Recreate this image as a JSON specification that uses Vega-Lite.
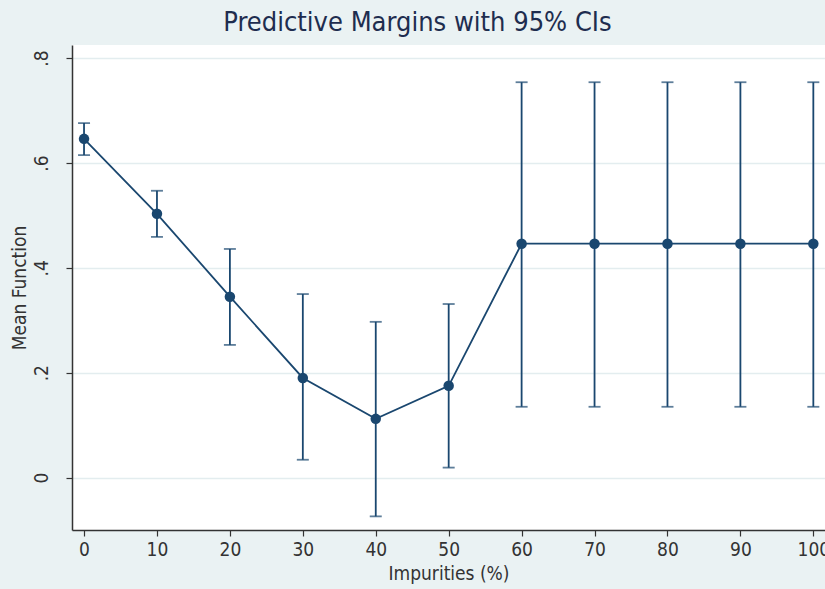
{
  "$schema": "https://vega.github.io/schema/vega-lite/v6.json",
  "width": 753,
  "height": 485,
  "autosize": {"type": "none"},
  "padding": {"left": 72, "top": 45, "right": 0, "bottom": 59},
  "background": "#EAF2F3",
  "view": {"fill": "white", "stroke": null},
  "title": {
    "text": "Predictive Margins with 95% CIs",
    "fontSize": 27,
    "font": "DejaVu Sans Condensed, Liberation Sans, sans-serif",
    "fontWeight": "normal",
    "color": "#1E2D4F",
    "anchor": "middle",
    "dx": -31,
    "offset": 8
  },
  "data": {
    "values": [
      {"imp": 0, "m": 0.646, "lo": 0.615, "hi": 0.676},
      {"imp": 10, "m": 0.503, "lo": 0.459, "hi": 0.547},
      {"imp": 20, "m": 0.345, "lo": 0.253, "hi": 0.436},
      {"imp": 30, "m": 0.190, "lo": 0.034, "hi": 0.350},
      {"imp": 40, "m": 0.112, "lo": -0.074, "hi": 0.297},
      {"imp": 50, "m": 0.175, "lo": 0.019, "hi": 0.331},
      {"imp": 60, "m": 0.446, "lo": 0.135, "hi": 0.754},
      {"imp": 70, "m": 0.446, "lo": 0.135, "hi": 0.754},
      {"imp": 80, "m": 0.446, "lo": 0.135, "hi": 0.754},
      {"imp": 90, "m": 0.446, "lo": 0.135, "hi": 0.754},
      {"imp": 100, "m": 0.446, "lo": 0.135, "hi": 0.754}
    ]
  },
  "encoding": {
    "x": {
      "field": "imp",
      "type": "quantitative",
      "scale": {"domain": [-1.65, 101.6], "nice": false, "zero": false},
      "axis": {
        "title": "Impurities (%)",
        "values": [0, 10, 20, 30, 40, 50, 60, 70, 80, 90, 100],
        "grid": false,
        "domainColor": "#333333",
        "domainWidth": 1.5,
        "tickColor": "#333333",
        "tickWidth": 1.2,
        "tickSize": 6,
        "labelFont": "DejaVu Sans Condensed, Liberation Sans, sans-serif",
        "labelFontSize": 19,
        "labelColor": "#333333",
        "labelPadding": 4,
        "labelFlush": false,
        "titleFont": "DejaVu Sans Condensed, Liberation Sans, sans-serif",
        "titleFontSize": 19,
        "titleFontWeight": "normal",
        "titleColor": "#333333",
        "titlePadding": 5
      }
    }
  },
  "layer": [
    {
      "mark": {"type": "rule", "color": "#1A476F", "strokeWidth": 1.8},
      "encoding": {
        "y": {
          "field": "lo",
          "type": "quantitative",
          "scale": {"domain": [-0.1, 0.825], "nice": false, "zero": false},
          "axis": {
            "title": "Mean Function",
            "values": [0, 0.2, 0.4, 0.6, 0.8],
            "labelExpr": "datum.value == 0 ? '0' : substring(format(datum.value, '.1f'), 1)",
            "grid": true,
            "gridColor": "#E3EDEF",
            "gridWidth": 1.5,
            "domainColor": "#333333",
            "domainWidth": 1.5,
            "tickColor": "#333333",
            "tickWidth": 1.2,
            "tickSize": 6,
            "labelAngle": 270,
            "labelAlign": "center",
            "labelBaseline": "bottom",
            "labelFont": "DejaVu Sans Condensed, Liberation Sans, sans-serif",
            "labelFontSize": 19,
            "labelColor": "#333333",
            "labelPadding": 15,
            "titleFont": "DejaVu Sans Condensed, Liberation Sans, sans-serif",
            "titleFontSize": 19,
            "titleFontWeight": "normal",
            "titleColor": "#333333",
            "titlePadding": 3
          }
        },
        "y2": {"field": "hi"}
      }
    },
    {
      "mark": {"type": "tick", "orient": "horizontal", "color": "#1A476F", "size": 12, "thickness": 1.8},
      "encoding": {"y": {"field": "lo", "type": "quantitative"}}
    },
    {
      "mark": {"type": "tick", "orient": "horizontal", "color": "#1A476F", "size": 12, "thickness": 1.8},
      "encoding": {"y": {"field": "hi", "type": "quantitative"}}
    },
    {
      "mark": {"type": "line", "color": "#1A476F", "strokeWidth": 1.8},
      "encoding": {"y": {"field": "m", "type": "quantitative"}}
    },
    {
      "mark": {"type": "point", "filled": true, "color": "#1A476F", "size": 110, "opacity": 1},
      "encoding": {"y": {"field": "m", "type": "quantitative"}}
    }
  ]
}
